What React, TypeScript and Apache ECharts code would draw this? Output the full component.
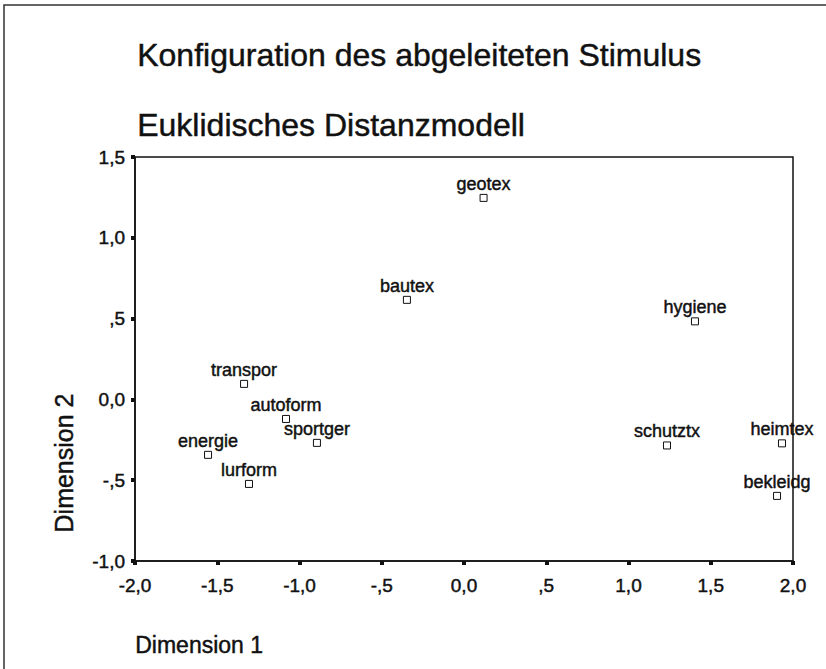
import React, { useEffect, useRef } from "react";
import * as echarts from "echarts";

const pointNames = ["geotex", "bautex", "hygiene", "schutztx", "heimtex", "bekleidg", "transpor", "autoform", "sportger", "energie", "lurform"];
const dim1Values = [0.119, -0.347, 1.404, 1.234, 1.933, 1.903, -1.337, -1.082, -0.894, -1.556, -1.307];
const dim2Values = [1.247, 0.616, 0.483, -0.285, -0.272, -0.597, 0.096, -0.121, -0.269, -0.343, -0.523];

const xTickValues = [-2, -1.5, -1, -0.5, 0, 0.5, 1, 1.5, 2];
const xTickLabels = ["-2,0", "-1,5", "-1,0", "-,5", "0,0", ",5", "1,0", "1,5", "2,0"];
const yTickValues = [-1, -0.5, 0, 0.5, 1, 1.5];
const yTickLabels = ["-1,0", "-,5", "0,0", ",5", "1,0", "1,5"];

const titleLine1 = "Konfiguration des abgeleiteten Stimulus";
const titleLine2 = "Euklidisches Distanzmodell";
const xAxisName = "Dimension 1";
const yAxisName = "Dimension 2";

const FONT = "'Liberation Sans', Arial, sans-serif";
const INK = "#111";
const BOLDEN = 0.45;

function tickLabel(values: number[], labels: string[], v: number): string {
  for (let i = 0; i < values.length; i++) {
    if (Math.abs(values[i] - v) < 1e-6) return labels[i];
  }
  return "";
}

export default function App() {
  const ref = useRef<HTMLDivElement>(null);
  useEffect(() => {
    if (!ref.current) return;
    const chart = echarts.init(ref.current, undefined, { renderer: "svg" });
    const data = pointNames.map((n, i) => ({ name: n, value: [dim1Values[i], dim2Values[i]] }));
    chart.setOption({
      animation: false,
      backgroundColor: "#fff",
      textStyle: { fontFamily: FONT },
      grid: { left: 135, right: 33, top: 157, bottom: 108, show: true, borderColor: INK, borderWidth: 1.5, backgroundColor: "transparent" },
      xAxis: {
        type: "value",
        min: -2,
        max: 2,
        interval: 0.5,
        splitLine: { show: false },
        axisLine: { show: true, onZero: false, lineStyle: { color: INK, width: 1.5 } },
        axisTick: { show: true, length: 4, lineStyle: { color: INK, width: 4 } },
        axisLabel: {
          color: INK,
          fontSize: 19,
          fontFamily: FONT,
          margin: 15,
          textBorderColor: INK,
          textBorderWidth: BOLDEN,
          formatter: (v: number) => tickLabel(xTickValues, xTickLabels, v),
        },
      },
      yAxis: {
        type: "value",
        min: -1,
        max: 1.5,
        interval: 0.5,
        splitLine: { show: false },
        axisLine: { show: true, onZero: false, lineStyle: { color: INK, width: 1.5 } },
        axisTick: { show: true, length: 4, lineStyle: { color: INK, width: 4 } },
        axisLabel: {
          color: INK,
          fontSize: 19,
          fontFamily: FONT,
          margin: 10,
          textBorderColor: INK,
          textBorderWidth: BOLDEN,
          formatter: (v: number) => tickLabel(yTickValues, yTickLabels, v),
        },
      },
      series: [
        {
          type: "scatter",
          data,
          symbol: "rect",
          symbolSize: 7,
          itemStyle: { color: "#fff", borderColor: INK, borderWidth: 1, opacity: 1 },
          label: {
            show: true,
            position: "top",
            distance: 1,
            formatter: (p: any) => p.name,
            color: INK,
            fontSize: 18,
            fontFamily: FONT,
            textBorderColor: INK,
            textBorderWidth: BOLDEN,
          },
          emphasis: { disabled: true },
        },
      ],
      graphic: [
        {
          type: "polyline",
          shape: { points: [[4, 669], [4, 5], [826, 5]] },
          style: { stroke: "#333", lineWidth: 1.5, fill: "none" },
          silent: true,
        },
        {
          type: "text",
          left: 137,
          top: 39,
          style: { text: titleLine1, font: `32px ${FONT}`, fill: INK, stroke: INK, lineWidth: BOLDEN },
        },
        {
          type: "text",
          left: 137,
          top: 109,
          style: { text: titleLine2, font: `32px ${FONT}`, fill: INK, stroke: INK, lineWidth: BOLDEN },
        },
        {
          type: "text",
          left: 135,
          top: 633,
          style: { text: xAxisName, font: `23px ${FONT}`, fill: INK, stroke: INK, lineWidth: BOLDEN },
        },
        {
          type: "text",
          x: 64,
          y: 463,
          rotation: Math.PI / 2,
          style: { text: yAxisName, font: `25px ${FONT}`, fill: INK, stroke: INK, lineWidth: BOLDEN, align: "center", verticalAlign: "middle" },
        },
      ],
    });
    return () => chart.dispose();
  }, []);
  return <div ref={ref} style={{ position: "fixed", left: 0, top: 0, width: 826, height: 669, background: "#fff" }} />;
}
